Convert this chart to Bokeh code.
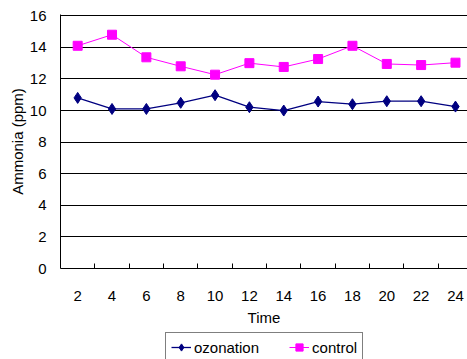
from bokeh.plotting import figure
from bokeh.layouts import column
from bokeh.models import FixedTicker, Legend, LegendItem, Range1d
from bokeh.embed import file_html
from bokeh.resources import INLINE

times = [2, 4, 6, 8, 10, 12, 14, 16, 18, 20, 22, 24]
ozonation = [10.8, 10.1, 10.1, 10.49, 10.97, 10.21, 10.0, 10.57, 10.4, 10.59, 10.59, 10.25]
control = [14.1, 14.8, 13.37, 12.8, 12.27, 13.0, 12.76, 13.26, 14.1, 12.95, 12.88, 13.03]
y_ticks = [0, 2, 4, 6, 8, 10, 12, 14, 16]
x_between = [3, 5, 7, 9, 11, 13, 15, 17, 19, 21, 23, 25]
series_names = ["ozonation", "control"]

FONT = "Liberation Sans"
NAVY = "#000080"
MAGENTA = "#FF00FF"

p = figure(frame_width=407, frame_height=254, output_backend="svg", toolbar_location=None,
           x_range=Range1d(1.0, 24.7), y_range=Range1d(0, 16.08),
           min_border_left=60, min_border_right=0, min_border_top=14, min_border_bottom=63)
p.outline_line_color = None
p.background_fill_color = "white"
p.border_fill_color = "white"

p.line(times, ozonation, line_color=NAVY, line_width=1.3)
p.scatter(times, ozonation, marker="diamond", size=11, fill_color=NAVY, line_color=NAVY)
p.line(times, control, line_color=MAGENTA, line_width=1.0)
p.scatter(times, control, marker="square", size=9, fill_color=MAGENTA, line_color=MAGENTA)

p.xgrid.grid_line_color = None
p.ygrid.grid_line_color = "black"
p.ygrid.grid_line_width = 1
p.yaxis.ticker = FixedTicker(ticks=y_ticks)
p.xaxis.ticker = FixedTicker(ticks=times, minor_ticks=x_between)

for ax in (p.xaxis[0], p.yaxis[0]):
    ax.axis_line_color = "black"
    ax.axis_line_width = 1
    ax.major_label_text_font = FONT
    ax.major_label_text_font_size = "15px"
    ax.major_label_text_color = "black"
    ax.axis_label_text_font = FONT
    ax.axis_label_text_font_size = "15px"
    ax.axis_label_text_font_style = "normal"
    ax.axis_label_text_color = "black"

p.xaxis.axis_label = "Time"
p.yaxis.axis_label = "Ammonia (ppm)"
p.xaxis.major_tick_line_color = None
p.xaxis.minor_tick_in = 5
p.xaxis.minor_tick_out = 0
p.xaxis.minor_tick_line_color = "black"
p.xaxis.major_label_standoff = 16
p.xaxis.axis_label_standoff = 5
p.yaxis.major_tick_line_color = None
p.yaxis.minor_tick_line_color = None
p.yaxis.major_label_standoff = 8
p.yaxis.axis_label_standoff = 1

# legend strip below the chart (its swatch renderers sit outside its visible range)
lg = figure(width=467, height=28, output_backend="svg", toolbar_location=None,
            x_range=Range1d(100, 101), y_range=Range1d(100, 101),
            min_border_left=0, min_border_right=0, min_border_top=0, min_border_bottom=0)
lg.axis.visible = False
lg.grid.visible = False
lg.outline_line_color = None
lg.background_fill_color = "white"
lg.border_fill_color = "white"
gl1 = lg.line(times[:2], ozonation[:2], line_color=NAVY, line_width=1.3)
gs1 = lg.scatter(times[:1], ozonation[:1], marker="diamond", size=11, fill_color=NAVY, line_color=NAVY)
gl2 = lg.line(times[:2], control[:2], line_color=MAGENTA, line_width=1.0)
gs2 = lg.scatter(times[:1], control[:1], marker="square", size=9, fill_color=MAGENTA, line_color=MAGENTA)

legend = Legend(items=[LegendItem(label=series_names[0], renderers=[gl1, gs1]),
                       LegendItem(label=series_names[1], renderers=[gl2, gs2])],
                orientation="horizontal", location=(105, -3),
                label_text_font=FONT, label_text_font_size="15px", label_text_color="black",
                glyph_width=20, glyph_height=18, label_height=18, label_standoff=3,
                spacing=30, padding=5, margin=0,
                border_line_color="black", border_line_width=1,
                background_fill_alpha=1.0)
lg.add_layout(legend)

layout = column(p, lg, spacing=0)
open("out.html", "w").write(file_html(layout, INLINE))
